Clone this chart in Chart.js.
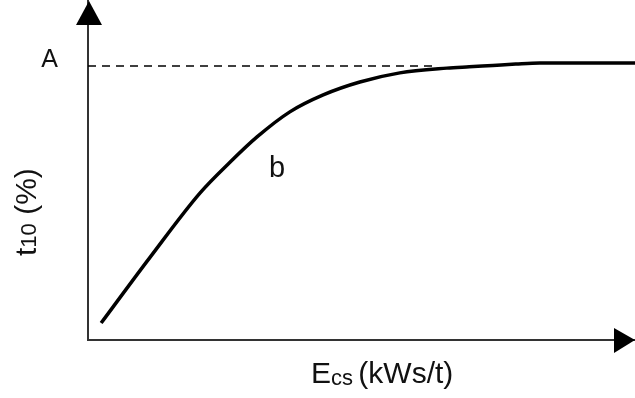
<!DOCTYPE html>
<html>
<head>
<meta charset="utf-8">
<script src="https://cdn.jsdelivr.net/npm/chart.js@4"></script>
<style>
  html, body { margin: 0; padding: 0; background: #ffffff; }
  #wrap { width: 635px; height: 398px; position: relative; }
</style>
</head>
<body>
<div id="wrap"><canvas id="c"></canvas></div>
<script>
// ---- data (arbitrary units 0..100) ----
const curveX = [2.4, 11.3, 20.5, 26.0, 30.9, 36.9, 43.0, 49.7, 57.0, 65.6, 69.7, 74.0, 78.2, 82.6, 100];
const curveY = [5.0, 24.3, 43.4, 52.5, 59.9, 67.3, 72.3, 76.1, 78.8, 80.2, 80.6, 81.0, 81.4, 81.7, 81.7];
const levelA = 80.8;           // asymptote "A"
const dashEndX = 63.4;         // dashed guide ends where it meets the curve
const yTickLabels = ["A"];
const xTitleMain = "E", xTitleSub = "cs", xTitleRest = " (kWs/t)";
const yTitleMain = "t", yTitleSub = "10", yTitleRest = " (%)";
const curveLabel = "b";

const FONT = "'Liberation Sans', Arial, 'DejaVu Sans', sans-serif";

const curvePts = curveX.map((x, i) => ({ x: x, y: curveY[i] }));
const dashPts = [{ x: 0, y: levelA }, { x: dashEndX, y: levelA }];

const decor = {
  id: 'decor',
  afterDraw(chart) {
    const ctx = chart.ctx;
    const xs = chart.scales.x, ys = chart.scales.y;
    const left = xs.left, bottom = ys.bottom;
    ctx.save();
    // arrowheads
    ctx.fillStyle = '#000';
    ctx.beginPath();
    ctx.moveTo(left + 1, ys.top);
    ctx.lineTo(left - 12, ys.top + 24);
    ctx.lineTo(left + 14, ys.top + 24);
    ctx.closePath();
    ctx.fill();
    ctx.beginPath();
    ctx.moveTo(xs.right, bottom);
    ctx.lineTo(xs.right - 21, bottom - 12);
    ctx.lineTo(xs.right - 21, bottom + 13);
    ctx.closePath();
    ctx.fill();

    ctx.fillStyle = '#111';
    ctx.textBaseline = 'alphabetic';
    ctx.textAlign = 'left';
    // x title
    let x = 311, yb = 383;
    ctx.font = '30px ' + FONT;
    ctx.fillText(xTitleMain, x, yb);
    x += ctx.measureText(xTitleMain).width;
    ctx.font = '22px ' + FONT;
    ctx.fillText(xTitleSub, x, yb + 2);
    x += ctx.measureText(xTitleSub).width;
    ctx.font = '30px ' + FONT;
    ctx.fillText(xTitleRest, x - 3, yb);

    // y title (rotated)
    ctx.save();
    ctx.translate(36, 256);
    ctx.rotate(-Math.PI / 2);
    let t = 0;
    ctx.font = '30px ' + FONT;
    ctx.fillText(yTitleMain, t, 0);
    t += ctx.measureText(yTitleMain).width;
    ctx.font = '22px ' + FONT;
    ctx.fillText(yTitleSub, t, 0);
    t += ctx.measureText(yTitleSub).width;
    ctx.font = '30px ' + FONT;
    ctx.fillText(yTitleRest, t, 0);
    ctx.restore();

    // curve label b
    ctx.font = '29px ' + FONT;
    ctx.fillText(curveLabel, xs.getPixelForValue(33.1), ys.getPixelForValue(48.1));
    ctx.restore();
  }
};

new Chart(document.getElementById('c'), {
  type: 'scatter',
  data: {
    datasets: [
      {
        data: curvePts,
        showLine: true,
        borderColor: '#000',
        borderWidth: 3.5,
        pointRadius: 0,
        cubicInterpolationMode: 'monotone',
        fill: false
      },
      {
        data: dashPts,
        showLine: true,
        borderColor: '#000',
        borderWidth: 1.5,
        borderDash: [8, 6],
        pointRadius: 0,
        fill: false
      }
    ]
  },
  options: {
    responsive: true,
    maintainAspectRatio: false,
    animation: false,
    layout: { padding: { top: 1, right: 0, left: 0, bottom: 0 } },
    plugins: { legend: { display: false }, tooltip: { enabled: false } },
    scales: {
      x: {
        type: 'linear', min: 0, max: 100,
        grid: { display: false, drawTicks: false },
        border: { display: true, color: '#333', width: 2 },
        ticks: { display: false },
        afterFit(s) { s.height = 58; s.paddingLeft = 0; s.paddingRight = 0; }
      },
      y: {
        type: 'linear', min: 0, max: 100,
        grid: { display: false, drawTicks: false },
        border: { display: true, color: '#333', width: 2 },
        afterBuildTicks(s) { s.ticks = [{ value: levelA }]; },
        ticks: {
          padding: 30,
          labelOffset: -6,
          color: '#111',
          font: { size: 25, family: FONT },
          callback: () => yTickLabels[0]
        },
        afterFit(s) { s.width = 88; s.paddingTop = 0; s.paddingBottom = 0; }
      }
    }
  },
  plugins: [decor]
});
</script>
</body>
</html>
